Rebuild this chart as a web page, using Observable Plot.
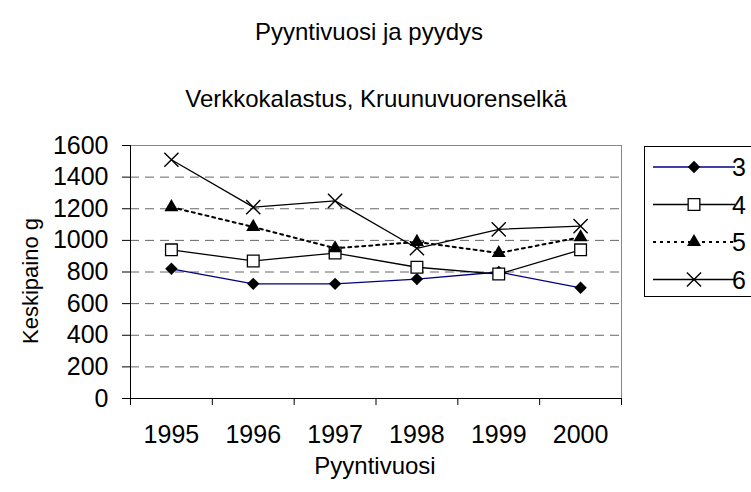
<!DOCTYPE html>
<html><head><meta charset="utf-8">
<script src="https://cdn.jsdelivr.net/npm/d3@7"></script>
<script src="https://cdn.jsdelivr.net/npm/@observablehq/plot@0.6"></script>
<style>
body{margin:0;background:#fff}
#wrap{position:relative;width:751px;height:492px;overflow:hidden}
</style></head><body><div id="wrap"></div>
<script>
const title = "Pyyntivuosi ja pyydys";
const subtitle = "Verkkokalastus, Kruunuvuorenselkä";
const xLabel = "Pyyntivuosi";
const yLabel = "Keskipaino g";
const years = [1995, 1996, 1997, 1998, 1999, 2000];
const seriesNames = ["3", "4", "5", "6"];
const s3 = [820, 725, 725, 755, 800, 700];
const s4 = [940, 870, 920, 830, 787, 940];
const s5 = [1210, 1085, 950, 990, 920, 1020];
const s6 = [1510, 1210, 1250, 950, 1070, 1090];
const yTicks = [0, 200, 400, 600, 800, 1000, 1200, 1400, 1600];
const gridValues = [200, 400, 600, 800, 1000, 1200, 1400];
const xBounds = [1994.5, 1995.5, 1996.5, 1997.5, 1998.5, 1999.5, 2000.5];

const allSeries = [s3, s4, s5, s6];
const rows = allSeries.map((s, k) => years.map((yr, i) => ({year: yr, value: s[i], series: seriesNames[k]})));

const FONT = "'Liberation Sans', Arial, sans-serif";
const FS = 25;   // tick labels
const TFS = 24;  // titles

const styles = [
  {line: {stroke: "#000080", strokeWidth: 1.3}, dot: {symbol: "diamond2", r: 5.6, fill: "#000", stroke: "none"}},
  {line: {stroke: "#000", strokeWidth: 1.3}, dot: {symbol: "square", r: 6.6, fill: "#fff", stroke: "#000", strokeWidth: 1.3}},
  {line: {stroke: "#000", strokeWidth: 2, strokeDasharray: "3,4"}, dot: {symbol: "triangle", r: 5.2, fill: "#000", stroke: "none"}},
  {line: {stroke: "#000", strokeWidth: 1.3}, dot: {symbol: "times", r: 6.5, fill: "none", stroke: "#000", strokeWidth: 1.4}}
];

const marks = [
  Plot.ruleY(gridValues, {stroke: "#666", strokeDasharray: "9,6", strokeWidth: 1}),
  Plot.ruleY([1600], {stroke: "#888"}),
  Plot.ruleX([2000.5], {stroke: "#888"}),
  Plot.axisY({ticks: yTicks, tickSize: 8, tickPadding: 14, tickFormat: d => String(d), fontSize: FS, label: null}),
  Plot.axisX({ticks: xBounds, tickSize: 7, tickFormat: () => "", label: null}),
  Plot.axisX({ticks: years, tickSize: 0, tickPadding: 27, tickFormat: d => String(d), fontSize: FS, label: null}),
  Plot.ruleX([1994.5], {stroke: "#000"}),
  Plot.ruleY([0], {stroke: "#000"})
];
rows.forEach((r, k) => {
  marks.push(Plot.line(r, {x: "year", y: "value", ...styles[k].line}));
});
rows.forEach((r, k) => {
  marks.push(Plot.dot(r, {x: "year", y: "value", ...styles[k].dot}));
});

const chart = Plot.plot({
  width: 751, height: 492,
  marginLeft: 130, marginRight: 130, marginTop: 145, marginBottom: 94,
  style: {fontFamily: FONT, fontSize: FS + "px", color: "#000", background: "#fff"},
  x: {type: "linear", domain: [1994.5, 2000.5], axis: null},
  y: {type: "linear", domain: [0, 1600], axis: null},
  marks
});
document.getElementById("wrap").appendChild(chart);

const svg = d3.select(chart);
const tg = svg.append("g").attr("font-family", FONT).attr("font-size", TFS).attr("fill", "#000");
tg.append("text").attr("x", 369).attr("y", 40).attr("text-anchor", "middle").text(title);
tg.append("text").attr("x", 376).attr("y", 107).attr("text-anchor", "middle").text(subtitle);
tg.append("text").attr("x", 375).attr("y", 474).attr("text-anchor", "middle").text(xLabel);
tg.append("text").attr("transform", "translate(38,281) rotate(-90)").attr("text-anchor", "middle")
  .attr("font-size", 22).text(yLabel);

// legend
const lg = svg.append("g").attr("font-family", FONT).attr("font-size", FS);
lg.append("rect").attr("x", 644.5).attr("y", 146.5).attr("width", 130).attr("height", 150)
  .attr("fill", "#fff").attr("stroke", "#000");
const symMap = {diamond2: d3.symbolDiamond2, square: d3.symbolSquare, triangle: d3.symbolTriangle, times: d3.symbolTimes};
seriesNames.forEach((name, k) => {
  const y = 167 + k * 37.5;
  const st = styles[k];
  lg.append("line").attr("x1", 653).attr("x2", 735).attr("y1", y).attr("y2", y)
    .attr("stroke", st.line.stroke).attr("stroke-width", st.line.strokeWidth)
    .attr("stroke-dasharray", st.line.strokeDasharray || null);
  lg.append("path").attr("transform", `translate(694,${y})`)
    .attr("d", d3.symbol(symMap[st.dot.symbol], Math.PI * st.dot.r * st.dot.r)())
    .attr("fill", st.dot.fill).attr("stroke", st.dot.stroke).attr("stroke-width", st.dot.strokeWidth || 0);
  lg.append("text").attr("x", 739).attr("y", y + 9).attr("fill", "#000").text(name);
});
</script></body></html>
